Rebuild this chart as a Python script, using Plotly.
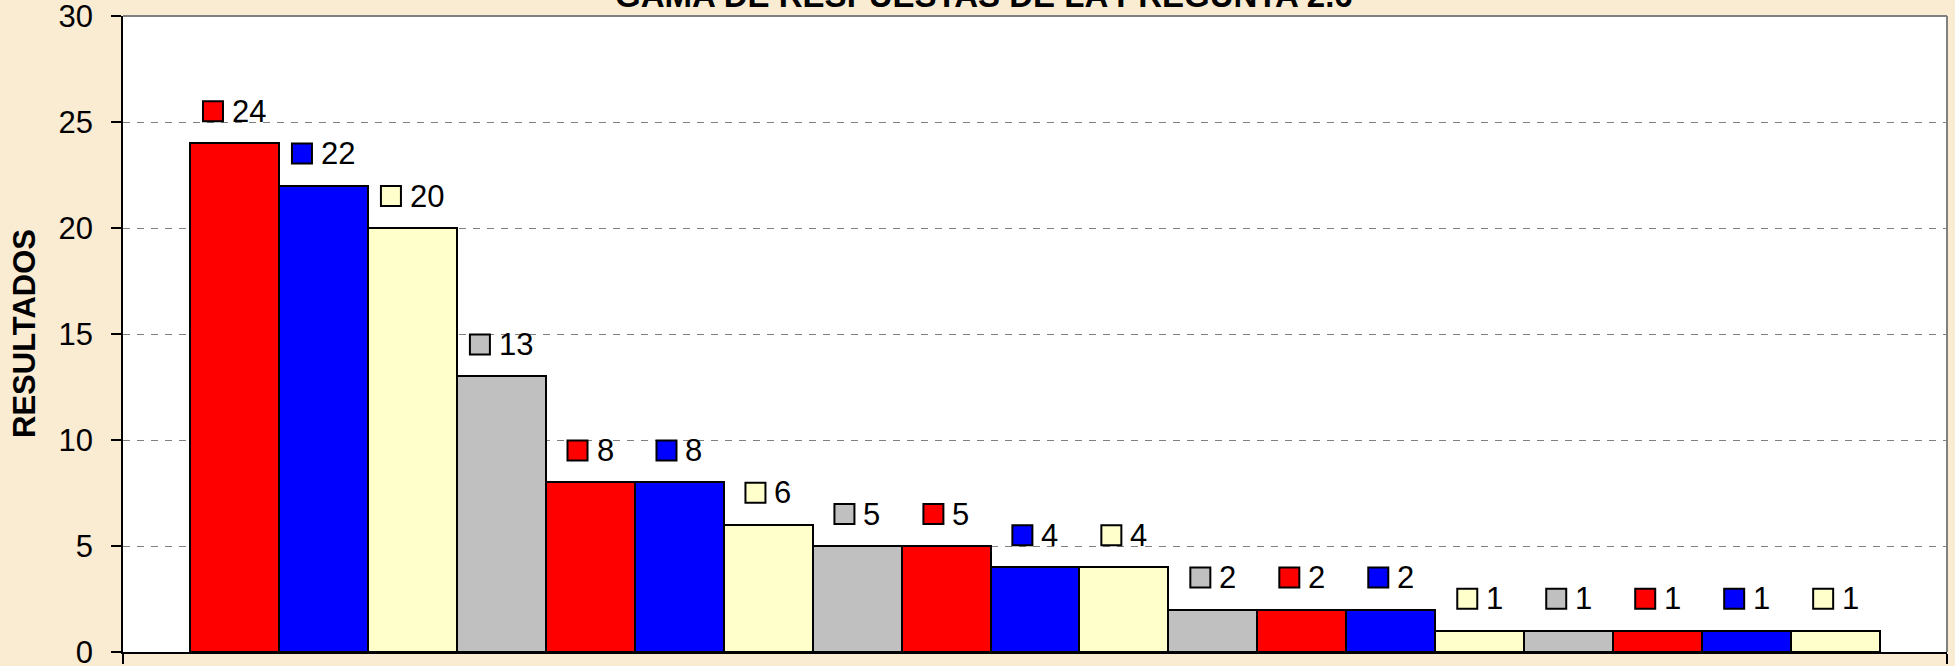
import plotly.graph_objects as go

# ---- data ----
values = [24, 22, 20, 13, 8, 8, 6, 5, 5, 4, 4, 2, 2, 2, 1, 1, 1, 1, 1]
palette = ["#FF0000", "#0000FF", "#FFFFCC", "#C0C0C0"]
title_text = "GAMA DE RESPUESTAS DE LA PREGUNTA 2.6"
y_title = "RESULTADOS"
y_ticks = [0, 5, 10, 15, 20, 25, 30]

FONT = "Liberation Sans, Arial, sans-serif"
FS = 31
positions = list(range(len(values)))
colors = [palette[i % len(palette)] for i in positions]

fig = go.Figure()
fig.add_trace(go.Bar(
    x=positions, y=values, width=1.0,
    marker=dict(color=colors, line=dict(color="black", width=2)),
    hoverinfo="y", showlegend=False,
))

shapes = []
annotations = []
SQ = 20
GAP = 8
LIFT = 32
for i, v in enumerate(values):
    txt = str(v)
    tw = len(txt) * 0.556 * FS
    total = SQ + 2 + GAP + tw
    left = -total / 2
    shapes.append(dict(
        type="rect", xref="x", yref="y",
        xsizemode="pixel", ysizemode="pixel",
        xanchor=i, yanchor=v,
        x0=left + 1, x1=left + 1 + SQ,
        y0=LIFT - SQ / 2, y1=LIFT + SQ / 2,
        fillcolor=colors[i], line=dict(color="black", width=2), layer="above",
    ))
    annotations.append(dict(
        x=i, y=v, xref="x", yref="y", text=txt, showarrow=False,
        xanchor="left", yanchor="middle",
        xshift=left + SQ + 2 + GAP - 2, yshift=LIFT,
        font=dict(family=FONT, size=FS, color="black"),
    ))

# plot-area border (top and right, gray)
shapes.append(dict(type="line", xref="paper", yref="paper", x0=0, x1=1, y0=1, y1=1,
                   line=dict(color="#808080", width=2), layer="above"))
shapes.append(dict(type="line", xref="paper", yref="paper", x0=1, x1=1, y0=0, y1=1,
                   line=dict(color="#808080", width=2), layer="above"))

# y-axis title
annotations.append(dict(
    x=(24 - 123) / 1824, y=0.5, xref="paper", yref="paper", text="<b>%s</b>" % y_title,
    showarrow=False, textangle=-90, xanchor="center", yanchor="middle",
    font=dict(family=FONT, size=FS, color="black"),
))
# chart title (partly above the top edge, as in the original)
annotations.append(dict(
    x=(984 - 123) / 1824, y=1, xref="paper", yref="paper", text="<b>%s</b>" % title_text,
    showarrow=False, xanchor="center", yanchor="middle", yshift=21,
    font=dict(family=FONT, size=33, color="black"),
))

fig.update_layout(
    width=1955, height=666,
    margin=dict(l=123, r=8, t=16, b=14, autoexpand=False),
    paper_bgcolor="#FAECD3",
    plot_bgcolor="white",
    bargap=0,
    shapes=shapes,
    annotations=annotations,
    xaxis=dict(range=[-1.25, 19.25], showgrid=False, zeroline=False,
               showline=True, linecolor="black", linewidth=1.5,
               tickmode="array", tickvals=[-1.25, 19.25], ticktext=["", ""],
               ticks="outside", ticklen=10, tickcolor="black", tickwidth=1.5,
               fixedrange=True),
    yaxis=dict(range=[0, 30], tickmode="array", tickvals=y_ticks,
               ticktext=[str(t) for t in y_ticks],
               showgrid=True, gridcolor="#808080", gridwidth=1, griddash="7px,7px",
               zeroline=False, showline=True, linecolor="black", linewidth=1.5,
               ticks="outside", ticklen=10, tickcolor="black", tickwidth=1.5,
               ticklabelstandoff=12, ticklabeloverflow="allow",
               tickfont=dict(family=FONT, size=FS, color="black"),
               fixedrange=True),
    font=dict(family=FONT, color="black"),
)

fig.write_html("out.html", config={"displayModeBar": False},
               post_script="document.body.style.margin='0';document.body.style.overflow='hidden';")
